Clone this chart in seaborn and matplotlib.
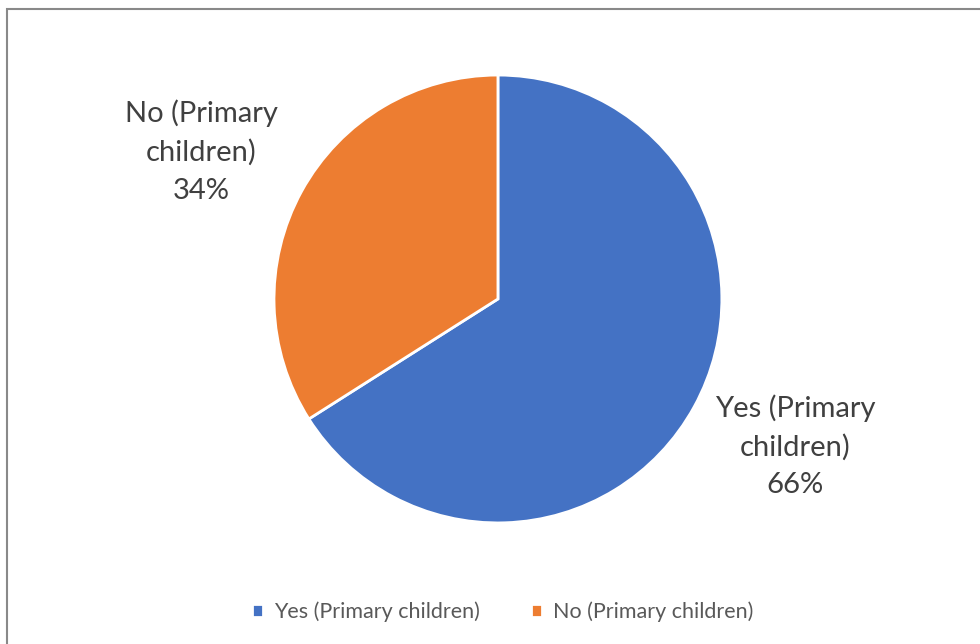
import numpy as np
import matplotlib.pyplot as plt
import seaborn as sns
from matplotlib.patches import Rectangle

sns.set_style('white')
plt.rcParams['font.family'] = ['Lato', 'DejaVu Sans']

# data
categories = ['Yes (Primary children)', 'No (Primary children)']
chart_labels = ['Yes (Primary\nchildren)\n66%', 'No (Primary\nchildren)\n34%']
values = [66, 34]
colors = ['#4472C4', '#ED7D31']

fig = plt.figure(figsize=(9.8, 6.44), dpi=100)

# chart border (cut off at the right / bottom like the original)
fig.patches.append(Rectangle((7 / 980, -0.01), 1.0, 1 - 9 / 644 + 0.01,
                             transform=fig.transFigure, fill=False,
                             edgecolor='#898989', linewidth=1.5))

ax = fig.add_axes([0.2796, 0.1879, 0.457, 0.6957])
wedges, texts = ax.pie(values, labels=chart_labels, colors=colors,
                       startangle=90, counterclock=False,
                       labeldistance=1.48,
                       wedgeprops=dict(edgecolor='white', linewidth=2))
for w, t in zip(wedges, texts):
    # place label a little past the wedge middle, like Excel does
    mid = np.deg2rad((w.theta1 + w.theta2) / 2 + 2.4)
    t.set_position((1.48 * np.cos(mid), 1.48 * np.sin(mid)))
    t.set_ha('center')
    t.set_va('center')
    t.set_fontsize(21)
    t.set_color('#404040')
    t.set_linespacing(1.55)
ax.set_xlim(-1, 1)
ax.set_ylim(-1, 1)
ax.set_aspect('equal')

fig.legend(wedges, categories, loc='center', bbox_to_anchor=(0.513, 0.05),
           ncol=2, frameon=False, fontsize=15.5, labelcolor='#595959',
           handlelength=0.5, handleheight=0.5, handletextpad=0.5,
           columnspacing=2.4)

fig.savefig('out.png', dpi=100)
